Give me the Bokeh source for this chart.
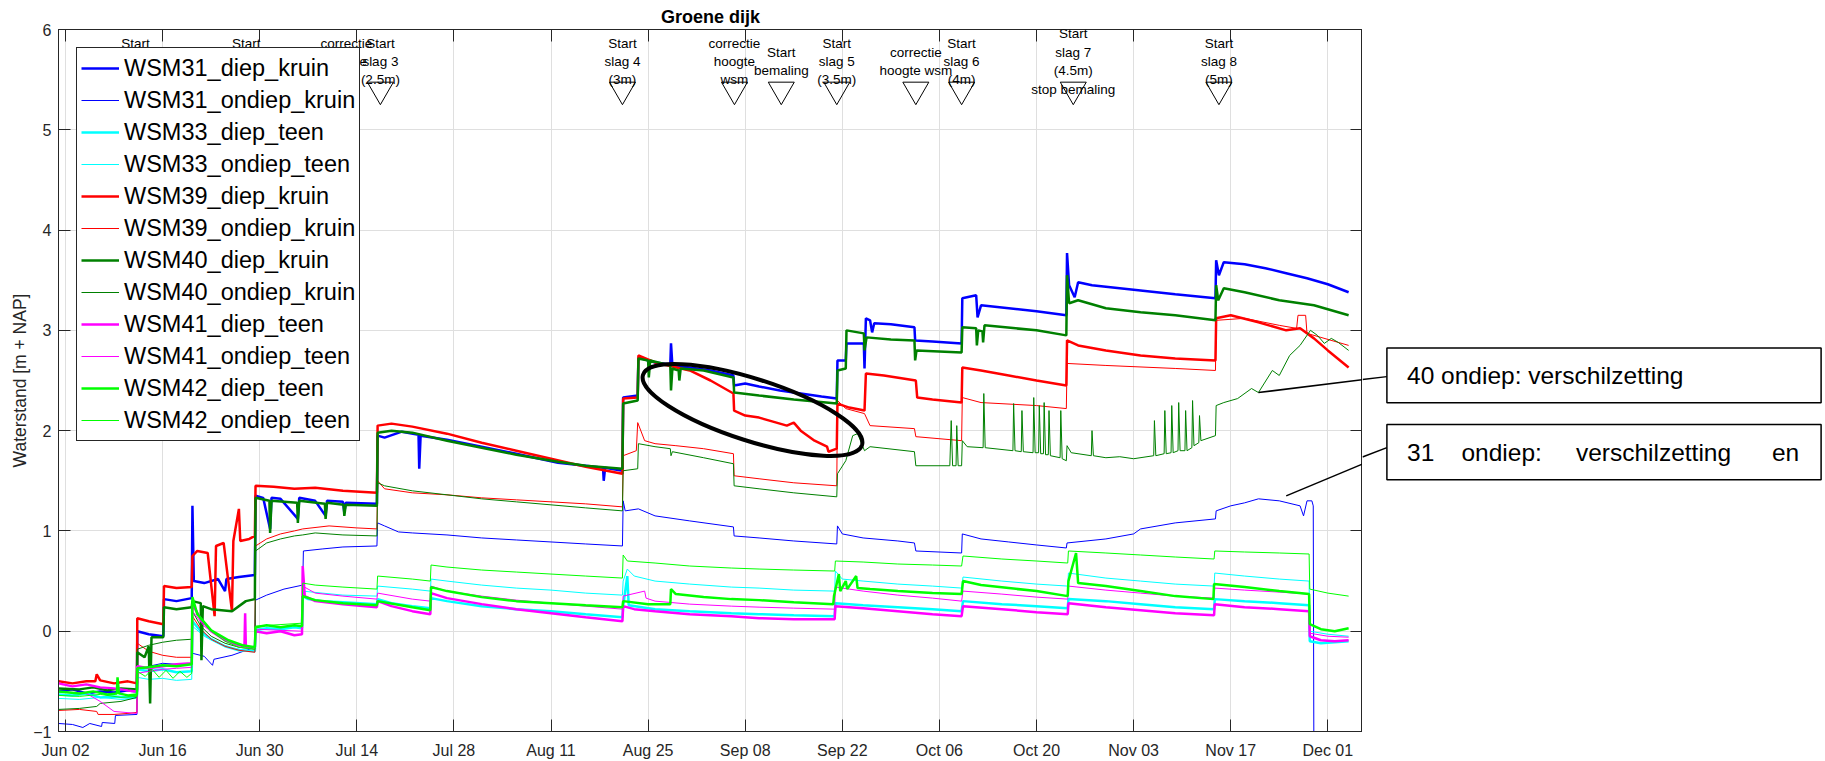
from datetime import datetime, timedelta
from bokeh.plotting import figure
from bokeh.layouts import row
from bokeh.models import (Range1d, FixedTicker, DatetimeTickFormatter, DatetimeAxis, LinearAxis,
                          Legend, LegendItem, LabelSet, Arrow, ColumnDataSource, CustomJSTickFormatter)
from bokeh.core.properties import value
from bokeh.embed import file_html
from bokeh.resources import INLINE

# ---------------- data ----------------
START = datetime(2019, 6, 2)          # day 0 = Jun 02
X_START_DAY, X_END_DAY = -1.01, 187.0
Y_MIN, Y_MAX = -1, 6
tick_days = [0, 14, 28, 42, 56, 70, 84, 98, 112, 126, 140, 154, 168, 182]
y_ticks = [-1, 0, 1, 2, 3, 4, 5, 6]

title_text = "Groene dijk"
y_label = "Waterstand [m + NAP]"

# (day since Jun 02, waterstand [m + NAP])
wsm31_diep_kruin = [(-1.0,-0.60),(1.0,-0.58),(3.0,-0.62),(5.0,-0.60),(7.0,-0.61),(9.0,-0.59),(10.3,-0.60),
    (10.35,0.00),(12.0,-0.03),(14.1,-0.05),(14.2,0.32),(16.0,0.30),(18.2,0.33),
    (18.3,1.25),(18.5,0.50),(20.0,0.48),(22.0,0.52),(23.0,0.40),(23.2,0.52),(25.0,0.54),(27.3,0.56),
    (27.4,1.35),(28.5,1.33),(29.5,1.02),(29.7,1.33),(31.0,1.32),(33.5,1.12),(33.7,1.33),(36.0,1.30),(37.5,1.15),(37.7,1.30),(40.0,1.29),(40.2,1.18),(40.4,1.28),(44.9,1.27),
    (45.0,1.95),(46.0,1.93),(48.5,1.99),(50.9,1.96),(51.0,1.62),(51.2,1.95),(55.0,1.91),(60.0,1.84),(65.0,1.77),(71.0,1.68),(75.0,1.65),(77.5,1.63),(77.6,1.50),(77.8,1.63),(80.3,1.60),
    (80.4,2.33),(82.5,2.35),(82.6,2.73),(85.0,2.68),(87.2,2.66),(87.3,2.87),(87.5,2.65),(90.0,2.63),(93.0,2.60),(96.3,2.55),
    (96.4,2.45),(98.0,2.47),(100.0,2.44),(103.0,2.40),(106.0,2.37),(109.0,2.34),(111.2,2.32),
    (111.3,2.70),(112.5,2.70),(112.6,2.87),(115.1,2.87),(115.2,2.62),(115.4,3.12),(116.0,3.10),(116.3,2.98),(116.6,3.07),(119.0,3.06),(122.4,3.03),
    (122.5,2.90),(125.0,2.89),(129.2,2.87),
    (129.3,3.32),(131.3,3.35),(131.5,3.13),(132.0,3.25),(136.0,3.22),(140.0,3.19),(144.3,3.15),
    (144.4,3.77),(144.7,3.45),(145.5,3.33),(146.0,3.48),(148.0,3.45),(152.0,3.42),(156.0,3.39),(160.0,3.36),(165.8,3.32),
    (165.9,3.70),(166.3,3.55),(167.0,3.68),(170.0,3.66),(173.0,3.62),(176.0,3.57),(179.0,3.52),(182.0,3.46),(185.0,3.38)]

wsm31_ondiep_kruin = [(-1.0,-0.92),(1.0,-0.93),(2.5,-0.96),(3.5,-0.92),(5.2,-0.95),(5.3,-0.91),(7.1,-0.92),(7.2,-0.84),(10.3,-0.83),
    (10.35,-0.40),(12.0,-0.35),(14.0,-0.32),(16.0,-0.33),(18.2,-0.32),
    (18.3,-0.22),(20.0,-0.25),(21.2,-0.34),(21.4,-0.28),(24.0,-0.24),(27.3,-0.16),
    (27.4,0.31),(29.0,0.36),(31.5,0.42),(34.2,0.46),
    (34.3,0.80),(37.0,0.82),(40.0,0.84),(44.9,0.85),
    (45.0,1.08),(46.0,1.05),(48.0,0.99),(50.0,0.98),(55.0,0.96),(60.0,0.93),(65.0,0.91),(70.0,0.89),(75.0,0.87),(80.3,0.85),
    (80.4,1.30),(80.7,1.20),(82.6,1.22),(85.0,1.15),(90.0,1.10),(96.3,1.04),
    (96.4,0.95),(100.0,0.93),(105.0,0.90),(111.2,0.87),
    (111.3,1.05),(112.0,0.97),(115.0,0.93),(120.0,0.90),(122.4,0.88),
    (122.6,0.80),(129.2,0.78),
    (129.3,0.97),(132.0,0.92),(136.0,0.89),(140.0,0.86),(144.3,0.83),
    (144.4,0.88),(150.0,0.92),(154.0,0.97),(155.0,1.02),(160.0,1.08),(165.8,1.12),
    (165.9,1.20),(168.0,1.25),(170.0,1.28),(172.0,1.32),(175.0,1.30),(178.0,1.25),(178.5,1.15),(179.0,1.30),(179.7,1.30),(179.9,1.25),
    (180.0,-1.5),(185.0,-1.5)]

wsm33_diep_teen = [(-1.0,-0.63),(1.0,-0.64),(3.0,-0.62),(5.0,-0.66),(7.0,-0.65),(9.0,-0.66),(10.3,-0.65),
    (10.35,-0.38),(12.0,-0.40),(14.0,-0.38),(16.0,-0.41),(18.2,-0.40),
    (18.3,0.10),(19.5,0.00),(21.0,-0.08),(23.0,-0.15),(25.0,-0.19),(27.3,-0.20),
    (27.4,0.01),(29.0,0.03),(31.0,0.02),(33.0,0.04),(34.1,0.03),
    (34.2,0.35),(35.0,0.32),(37.0,0.30),(40.0,0.29),(44.9,0.27),
    (45.0,0.32),(47.0,0.28),(50.0,0.25),(52.6,0.23),
    (52.7,0.33),(55.0,0.30),(60.0,0.25),(65.0,0.22),(70.0,0.20),(75.0,0.17),(80.3,0.14),
    (80.4,0.25),(81.0,0.55),(81.2,0.26),(85.0,0.22),(90.0,0.20),(96.0,0.18),(100.0,0.17),(105.0,0.16),(110.9,0.15),
    (111.0,0.28),(115.0,0.26),(120.0,0.24),(125.0,0.22),(129.2,0.20),
    (129.4,0.30),(135.0,0.27),(140.0,0.25),(144.5,0.23),
    (144.6,0.32),(150.0,0.30),(155.0,0.27),(160.0,0.24),(165.6,0.22),
    (165.7,0.32),(170.0,0.30),(175.0,0.28),(179.3,0.26),
    (179.4,-0.10),(181.0,-0.12),(183.0,-0.11),(185.0,-0.10)]

wsm33_ondiep_teen = [(-1.0,-0.67),(2.0,-0.68),(5.0,-0.66),(8.0,-0.68),(10.3,-0.67),
    (10.35,-0.46),(12.0,-0.48),(14.0,-0.47),(16.0,-0.49),(18.2,-0.48),
    (18.3,0.05),(20.0,-0.05),(22.0,-0.12),(24.0,-0.17),(27.3,-0.20),
    (27.4,0.02),(34.1,0.04),
    (34.2,0.40),(37.0,0.38),(40.0,0.36),(44.9,0.35),
    (45.0,0.45),(50.0,0.42),(52.6,0.40),
    (52.7,0.52),(55.0,0.50),(60.0,0.46),(65.0,0.43),(70.0,0.41),(75.0,0.38),(80.3,0.36),
    (80.4,0.50),(81.0,0.62),(82.0,0.55),(85.0,0.50),(90.0,0.47),(96.0,0.44),(100.0,0.43),(105.0,0.41),(110.9,0.40),
    (111.0,0.60),(112.0,0.52),(115.0,0.50),(120.0,0.47),(125.0,0.45),(129.2,0.43),
    (129.4,0.54),(135.0,0.50),(140.0,0.47),(144.5,0.45),
    (144.6,0.58),(150.0,0.53),(155.0,0.50),(160.0,0.47),(165.6,0.45),
    (165.7,0.58),(170.0,0.55),(175.0,0.52),(179.3,0.50),
    (179.4,0.00),(182.0,-0.03),(185.0,-0.05)]

wsm39_diep_kruin = [(-1.0,-0.50),(1.0,-0.52),(3.0,-0.50),(4.3,-0.50),(4.5,-0.43),(5.0,-0.49),(7.0,-0.52),(9.0,-0.50),(10.3,-0.52),
    (10.35,0.13),(12.0,0.10),(14.1,0.07),
    (14.2,0.45),(16.0,0.43),(18.2,0.44),
    (18.3,0.75),(19.0,0.80),(20.5,0.78),(21.5,0.15),(21.7,0.85),(22.8,0.88),(24.0,0.20),(24.2,0.90),(25.0,1.22),(25.2,0.90),(26.5,0.92),(27.3,0.95),
    (27.4,1.45),(30.0,1.44),(33.0,1.42),(36.0,1.43),(40.0,1.40),(44.9,1.38),
    (45.0,2.05),(47.0,2.07),(50.0,2.04),(55.0,1.97),(60.0,1.88),(65.0,1.80),(70.0,1.72),(75.0,1.64),(80.3,1.57),
    (80.4,2.32),(82.5,2.33),
    (82.6,2.75),(85.0,2.68),(90.0,2.60),(93.0,2.50),(96.3,2.37),
    (96.4,2.20),(98.0,2.15),(100.0,2.13),(102.0,2.09),(104.0,2.05),(105.0,2.08),(106.0,2.00),(108.0,1.90),(109.8,1.84),(110.0,1.79),(111.2,1.82),
    (111.3,2.27),(113.0,2.23),(115.2,2.20),
    (115.4,2.57),(118.0,2.55),(122.6,2.50),
    (122.8,2.33),(125.0,2.31),(129.2,2.28),
    (129.3,2.63),(132.0,2.60),(136.0,2.55),(140.0,2.50),(144.3,2.45),
    (144.4,2.90),(146.0,2.85),(150.0,2.80),(155.0,2.75),(160.0,2.72),(165.8,2.70),
    (165.9,3.12),(168.0,3.15),(172.0,3.08),(176.0,3.00),(178.0,3.02),(180.0,2.92),(182.0,2.80),(185.0,2.63)]

wsm39_ondiep_kruin = [(-1.0,-0.79),(2.0,-0.78),(4.5,-0.80),(4.7,-0.83),(7.0,-0.83),(9.0,-0.82),(10.3,-0.81),
    (10.35,-0.12),(12.0,-0.20),(14.0,-0.24),(16.0,-0.26),(18.2,-0.26),
    (18.3,0.15),(19.5,0.02),(21.0,-0.08),(23.0,-0.15),(25.0,-0.19),(27.3,-0.21),
    (27.4,0.85),(29.0,0.92),(31.0,0.97),(33.0,1.00),(34.2,1.02),(38.0,1.05),(42.0,1.03),(44.9,1.02),
    (45.0,1.50),(46.0,1.42),(50.0,1.38),(55.0,1.36),(60.0,1.33),(65.0,1.31),(70.0,1.29),(75.0,1.27),(80.3,1.24),
    (80.4,1.75),(82.3,1.80),(82.5,2.08),(83.5,1.90),(85.0,1.87),(88.0,1.85),(92.0,1.82),(96.3,1.77),
    (96.4,1.55),(100.0,1.52),(105.0,1.48),(111.2,1.45),
    (111.3,2.30),(112.5,2.22),(115.2,2.17),(116.0,2.05),(122.4,2.02),
    (122.6,1.94),(129.2,1.90),
    (129.3,2.33),(132.0,2.28),(140.0,2.25),(144.3,2.22),
    (144.4,2.67),(150.0,2.65),(160.0,2.62),(165.8,2.60),
    (165.9,3.10),(170.0,3.12),(175.0,3.05),(177.5,3.02),(177.7,3.15),(178.8,3.15),(179.0,2.97),(181.0,2.93),(185.0,2.85)]

wsm40_diep_kruin = [(-1.0,-0.57),(2.0,-0.58),(4.0,-0.56),(6.0,-0.59),(8.0,-0.57),(10.3,-0.58),
    (10.35,-0.21),(11.4,-0.26),(12.0,-0.15),(12.2,-0.72),(12.4,-0.06),(14.1,-0.06),
    (14.2,0.24),(16.0,0.22),(18.2,0.24),
    (18.3,0.30),(19.5,0.28),(19.6,-0.29),(19.8,0.25),(21.0,0.22),(24.0,0.20),(26.0,0.30),(27.3,0.32),
    (27.4,1.33),(29.4,1.30),(29.5,0.98),(29.7,1.30),(33.4,1.28),(33.5,1.08),(33.7,1.30),(37.4,1.27),(37.5,1.12),(37.7,1.28),(40.1,1.26),(40.2,1.15),(40.4,1.26),(44.9,1.25),
    (45.0,1.98),(47.0,2.00),(50.0,1.98),(55.0,1.90),(60.0,1.83),(65.0,1.76),(71.0,1.69),(75.0,1.65),(80.3,1.62),
    (80.4,2.27),(82.5,2.30),
    (82.6,2.72),(84.0,2.70),(84.1,2.53),(84.3,2.70),(87.2,2.65),(87.3,2.40),(87.5,2.62),(88.4,2.60),(88.5,2.50),(88.7,2.62),(92.0,2.60),(96.3,2.53),
    (96.4,2.38),(100.0,2.35),(105.0,2.31),(111.2,2.27),
    (111.3,2.60),(112.5,2.62),(112.6,3.00),(115.1,2.97),(115.2,2.80),(115.5,2.93),(119.0,2.91),(122.4,2.90),
    (122.5,2.70),(122.7,2.80),(129.2,2.78),
    (129.3,3.03),(131.3,3.02),(131.4,2.85),(131.6,3.00),(132.2,2.99),(132.3,2.88),(132.5,3.05),(137.0,3.02),(140.0,3.00),(144.3,2.95),
    (144.4,3.55),(144.7,3.27),(146.0,3.30),(150.0,3.22),(155.0,3.18),(160.0,3.15),(165.8,3.10),
    (165.9,3.45),(166.2,3.30),(167.0,3.42),(170.0,3.38),(175.0,3.30),(180.0,3.25),(185.0,3.15)]

wsm40_ondiep_kruin = [(-1.0,-0.78),(2.0,-0.77),(4.5,-0.75),(5.0,-0.72),(8.0,-0.70),(10.3,-0.66),
    (10.35,-0.18),(12.0,-0.14),(14.0,-0.11),(16.0,-0.09),(18.2,-0.08),
    (18.3,0.20),(19.5,0.05),(21.0,-0.05),(23.0,-0.12),(25.0,-0.16),(27.3,-0.18),
    (27.4,0.80),(29.0,0.88),(31.0,0.92),(33.0,0.95),(34.2,0.96),(36.0,0.98),(40.0,0.96),(44.9,0.95),
    (45.0,1.48),(46.0,1.45),(50.0,1.40),(55.0,1.36),(60.0,1.32),(65.0,1.29),(70.0,1.26),(75.0,1.23),(80.3,1.20),
    (80.4,1.60),(82.5,1.62),(82.6,1.87),(85.0,1.84),(87.2,1.82),(87.3,1.75),(87.5,1.79),(92.0,1.73),(96.3,1.67),
    (96.4,1.45),(100.0,1.42),(105.0,1.38),(111.2,1.34),
    (111.3,1.57),(112.5,1.70),(113.5,1.95),(114.2,1.97),(115.2,1.80),(116.0,1.84),(122.4,1.79),
    (122.6,1.65),(127.5,1.65),(127.7,2.10),(127.9,1.65),(128.4,1.65),(128.5,2.05),(128.7,1.65),(129.2,1.65),
    (129.3,1.90),(130.0,1.84),(132.3,1.83),(132.4,2.37),(132.6,1.83),(136.6,1.80),(136.7,2.27),(136.9,1.80),(137.8,1.79),(137.9,2.20),(138.1,1.79),
    (139.5,1.78),(139.6,2.33),(139.8,1.78),(140.3,1.78),(140.4,2.25),(140.6,1.77),(141.0,1.77),(141.1,2.28),(141.3,1.76),(141.7,1.76),(141.8,2.20),(142.0,1.75),
    (143.4,1.73),(143.5,2.20),(143.7,1.72),(144.3,1.70),
    (144.4,1.85),(145.0,1.78),(147.9,1.75),(148.0,2.00),(148.2,1.75),(150.0,1.73),(152.0,1.74),(154.0,1.72),
    (156.9,1.75),(157.0,2.10),(157.2,1.75),(158.4,1.77),(158.5,2.20),(158.7,1.77),(159.4,1.78),(159.5,2.25),(159.7,1.78),
    (160.4,1.80),(160.5,2.28),(160.7,1.80),(161.4,1.80),(161.5,2.20),(161.7,1.80),(162.4,1.83),(162.5,2.30),(162.7,1.85),
    (163.4,1.88),(163.5,2.15),(163.7,1.90),(165.8,1.95),
    (165.9,2.25),(167.0,2.28),(169.0,2.32),(171.0,2.42),(172.0,2.38),(174.0,2.60),(175.0,2.55),(176.5,2.75),(178.0,2.85),
    (179.5,3.00),(180.5,2.95),(181.5,2.87),(182.5,2.92),(183.5,2.88),(185.0,2.80)]

wsm41_diep_teen = [(-1.0,-0.52),(1.0,-0.55),(3.0,-0.53),(5.0,-0.56),(7.0,-0.57),(9.0,-0.59),(10.3,-0.60),
    (10.35,-0.35),(12.0,-0.37),(14.0,-0.35),(16.0,-0.33),(18.2,-0.32),
    (18.3,0.27),(19.5,0.12),(21.0,0.00),(23.0,-0.09),(25.0,-0.14),(25.8,-0.15),(25.9,0.18),(26.0,-0.16),(27.3,-0.16),
    (27.4,0.00),(29.0,-0.02),(31.0,0.00),(33.0,-0.04),(34.1,-0.03),
    (34.2,0.65),(34.5,0.35),(36.0,0.30),(40.0,0.27),(44.9,0.24),
    (45.0,0.30),(47.0,0.25),(50.0,0.20),(52.6,0.17),
    (52.7,0.38),(55.0,0.33),(60.0,0.27),(65.0,0.22),(70.0,0.18),(75.0,0.14),(80.3,0.10),
    (80.4,0.25),(82.0,0.22),(85.0,0.20),(90.0,0.17),(96.0,0.15),(100.0,0.13),(105.0,0.12),(110.9,0.12),
    (111.0,0.25),(115.0,0.23),(120.0,0.20),(125.0,0.17),(129.2,0.15),
    (129.4,0.25),(135.0,0.22),(140.0,0.19),(144.5,0.17),
    (144.6,0.28),(150.0,0.24),(155.0,0.21),(160.0,0.18),(165.6,0.16),
    (165.7,0.27),(170.0,0.24),(175.0,0.22),(179.3,0.20),
    (179.4,-0.05),(181.0,-0.09),(183.0,-0.10),(185.0,-0.09)]

wsm41_ondiep_teen = [(-1.0,-0.60),(3.0,-0.62),(5.0,-0.70),(7.0,-0.80),(10.3,-0.82),
    (10.35,-0.42),(12.0,-0.40),(14.0,-0.38),(16.0,-0.37),(18.2,-0.36),
    (18.3,0.20),(20.0,0.05),(22.0,-0.05),(24.0,-0.12),(27.3,-0.17),
    (27.4,0.02),(34.1,0.00),
    (34.2,0.45),(36.0,0.38),(40.0,0.35),(44.9,0.32),
    (45.0,0.38),(50.0,0.32),(52.6,0.30),
    (52.7,0.45),(55.0,0.40),(60.0,0.35),(65.0,0.31),(70.0,0.28),(75.0,0.25),(80.3,0.22),
    (80.4,0.35),(83.5,0.40),(83.7,0.33),(85.0,0.30),(90.0,0.27),(96.0,0.25),(100.0,0.24),(105.0,0.23),(110.9,0.22),
    (111.0,0.44),(115.0,0.40),(120.0,0.36),(125.0,0.33),(129.2,0.30),
    (129.4,0.40),(135.0,0.37),(140.0,0.34),(144.5,0.32),
    (144.6,0.45),(150.0,0.41),(155.0,0.38),(160.0,0.35),(165.6,0.33),
    (165.7,0.43),(170.0,0.41),(175.0,0.39),(179.3,0.37),
    (179.4,-0.02),(182.0,-0.05),(185.0,-0.06)]

wsm42_diep_teen = [(-1.0,-0.60),(2.0,-0.62),(4.0,-0.60),(6.0,-0.63),(7.4,-0.62),(7.5,-0.46),(7.7,-0.62),(9.0,-0.64),(10.3,-0.63),
    (10.35,-0.37),(12.0,-0.36),(14.0,-0.34),(16.0,-0.35),(18.2,-0.33),
    (18.3,0.34),(19.0,0.17),(21.0,0.01),(23.5,-0.09),(25.5,-0.14),(27.3,-0.16),
    (27.4,0.04),(29.0,0.06),(31.0,0.04),(33.0,0.06),(34.1,0.05),
    (34.2,0.35),(36.0,0.31),(40.0,0.28),(44.9,0.26),
    (45.0,0.30),(50.0,0.24),(52.6,0.21),
    (52.7,0.44),(55.0,0.40),(60.0,0.34),(65.0,0.30),(70.0,0.28),(75.0,0.26),(80.3,0.24),
    (80.4,0.30),(84.0,0.27),(87.2,0.27),(87.3,0.42),(88.0,0.37),(92.0,0.34),(96.0,0.32),(100.0,0.31),(105.0,0.29),(110.7,0.27),
    (110.8,0.35),(111.5,0.57),(111.7,0.40),(112.5,0.50),(112.7,0.42),(114.0,0.55),(114.2,0.43),(116.0,0.42),(120.0,0.40),(125.0,0.38),(129.2,0.37),
    (129.4,0.50),(132.0,0.46),(136.0,0.43),(140.0,0.40),(144.5,0.35),
    (144.6,0.50),(145.7,0.78),(146.0,0.48),(150.0,0.45),(155.0,0.40),(160.0,0.35),(165.5,0.32),
    (165.6,0.47),(170.0,0.44),(175.0,0.40),(179.3,0.37),
    (179.4,0.07),(181.0,0.02),(183.0,0.00),(185.0,0.03)]

wsm42_ondiep_teen = [(-1.0,-0.64),(2.0,-0.65),(5.0,-0.63),(8.0,-0.66),(10.3,-0.65),
    (10.35,-0.40),(11.5,-0.45),(12.5,-0.38),(13.5,-0.46),(14.5,-0.39),(15.5,-0.47),(16.5,-0.40),(17.5,-0.46),(18.2,-0.42),
    (18.3,0.30),(19.5,0.12),(21.0,0.00),(23.0,-0.10),(25.0,-0.16),(27.3,-0.18),
    (27.4,0.05),(34.1,0.08),
    (34.2,0.48),(36.0,0.46),(40.0,0.44),(44.9,0.42),
    (45.0,0.55),(50.0,0.52),(52.6,0.50),
    (52.7,0.66),(55.0,0.64),(60.0,0.61),(65.0,0.59),(70.0,0.57),(75.0,0.55),(80.3,0.53),
    (80.4,0.76),(81.0,0.70),(85.0,0.68),(90.0,0.65),(96.0,0.63),(100.0,0.62),(105.0,0.61),(110.9,0.60),
    (111.0,0.70),(115.0,0.69),(120.0,0.67),(125.0,0.66),(129.2,0.65),
    (129.4,0.75),(135.0,0.72),(140.0,0.70),(144.5,0.68),
    (144.6,0.80),(150.0,0.78),(155.0,0.76),(160.0,0.74),(165.6,0.72),
    (165.7,0.80),(170.0,0.79),(175.0,0.78),(179.3,0.77),
    (179.4,0.42),(182.0,0.38),(185.0,0.35)]

series_names = ["WSM31_diep_kruin", "WSM31_ondiep_kruin", "WSM33_diep_teen", "WSM33_ondiep_teen",
                "WSM39_diep_kruin", "WSM39_ondiep_kruin", "WSM40_diep_kruin", "WSM40_ondiep_kruin",
                "WSM41_diep_teen", "WSM41_ondiep_teen", "WSM42_diep_teen", "WSM42_ondiep_teen"]
series_data = [wsm31_diep_kruin, wsm31_ondiep_kruin, wsm33_diep_teen, wsm33_ondiep_teen,
               wsm39_diep_kruin, wsm39_ondiep_kruin, wsm40_diep_kruin, wsm40_ondiep_kruin,
               wsm41_diep_teen, wsm41_ondiep_teen, wsm42_diep_teen, wsm42_ondiep_teen]
series_colors = ["#0000ff", "#0000ff", "#00ffff", "#00ffff", "#ff0000", "#ff0000",
                 "#008000", "#008000", "#ff00ff", "#ff00ff", "#00ff00", "#00ff00"]
series_widths = [2.5, 1, 2.5, 1, 2.5, 1, 2.5, 1, 2.5, 1, 2.5, 1]

event_days = [10.1, 26.05, 40.5, 45.4, 80.3, 96.45, 103.2, 111.2, 122.6, 129.2, 145.3, 166.3]
event_labels = ["Start\nslag 1\n(1.5m)", "Start\nslag 2\n(2m)", "correctie\nhoogte\nwsm",
                "Start\nslag 3\n(2.5m)", "Start\nslag 4\n(3m)", "correctie\nhoogte\nwsm",
                "Start\nbemaling", "Start\nslag 5\n(3.5m)", "correctie\nhoogte wsm",
                "Start\nslag 6\n(4m)", "Start\nslag 7\n(4.5m)\nstop bemaling", "Start\nslag 8\n(5m)"]
event_marker_level = 5.4
event_label_level = 5.68

circle_day, circle_value = 99.05, 2.206

callout_texts = ["40 ondiep: verschilzetting",
                 "31\u00a0\u00a0\u00a0\u00a0ondiep:\u00a0\u00a0\u00a0\u00a0\u00a0verschilzetting\u00a0\u00a0\u00a0\u00a0\u00a0\u00a0en"]
callout_anchor_days = [172.0, 176.0]
callout_anchor_values = [2.38, 1.35]

# ---------------- layout (pixels) ----------------
W, H = 1825, 761
FRAME_L, FRAME_T, FRAME_W, FRAME_H = 58, 29, 1304, 702
FRAME_R, FRAME_B = FRAME_L + FRAME_W, FRAME_T + FRAME_H
LINE_STEP = 18.4 * (Y_MAX - Y_MIN) / FRAME_H          # label line spacing in data units
box_left, box_right = 1386.4, 1820.6
box_tops, box_bottoms = [345.2, 428.2], [404.5, 488.2]
box_line_y = [376.3, 453.3]
text_left = 1406.5

EPOCH = datetime(1970, 1, 1)
def to_ms(day):
    return (START + timedelta(days=day) - EPOCH).total_seconds() * 1000.0

def page_xy(day, val):
    px = FRAME_L + (day - X_START_DAY) / (X_END_DAY - X_START_DAY) * FRAME_W
    py = FRAME_T + (Y_MAX - val) / (Y_MAX - Y_MIN) * FRAME_H
    return px, py

FONT = "Liberation Sans"
AX = "#262626"

p = figure(width=FRAME_R, height=H, x_axis_type="datetime",
           x_range=Range1d(to_ms(X_START_DAY), to_ms(X_END_DAY)),
           y_range=Range1d(Y_MIN, Y_MAX),
           output_backend="svg", toolbar_location=None,
           min_border_left=FRAME_L, min_border_right=0, min_border_top=FRAME_T,
           min_border_bottom=H - FRAME_B)
p.background_fill_color = "white"
p.border_fill_color = "white"
p.outline_line_color = AX
p.outline_line_width = 1

p.title.text = title_text
p.title.align = "center"
p.title.text_font = FONT
p.title.text_font_size = "18px"
p.title.text_font_style = "bold"
p.title.text_color = "black"
p.title.standoff = 5

xt = FixedTicker(ticks=[to_ms(t) for t in tick_days])
yt = FixedTicker(ticks=y_ticks)
fmt = "%b %d"
p.xaxis.ticker = xt
p.xaxis.formatter = DatetimeTickFormatter(milliseconds=fmt, seconds=fmt, minsec=fmt, minutes=fmt,
                                          hourmin=fmt, hours=fmt, days=fmt, months=fmt, years=fmt)
p.yaxis.ticker = yt
p.xgrid.ticker = xt
p.ygrid.ticker = yt
for g in (p.xgrid[0], p.ygrid[0]):
    g.grid_line_color = "#dfdfdf"
    g.grid_line_width = 1

def style_axis(ax):
    ax.axis_line_color = AX
    ax.major_tick_line_color = AX
    ax.major_tick_in = 12
    ax.major_tick_out = 0
    ax.minor_tick_line_color = None
    ax.major_label_text_font = FONT
    ax.major_label_text_font_size = "16px"
    ax.major_label_text_color = AX

style_axis(p.xaxis[0]); p.xaxis[0].major_label_standoff = 10
style_axis(p.yaxis[0]); p.yaxis[0].major_label_standoff = 7
p.yaxis[0].axis_label = y_label
p.yaxis[0].axis_label_text_font = FONT
p.yaxis[0].axis_label_text_font_size = "17.5px"
p.yaxis[0].axis_label_text_font_style = "normal"
p.yaxis[0].axis_label_text_color = AX
p.yaxis[0].axis_label_standoff = 0

blank = CustomJSTickFormatter(code="return ''")
top_ax = DatetimeAxis(ticker=xt, formatter=blank, major_label_standoff=0)
right_ax = LinearAxis(ticker=yt, formatter=blank, major_label_standoff=0)
for ax in (top_ax, right_ax):
    style_axis(ax)
    ax.major_label_text_font_size = "0px"
p.add_layout(top_ax, "above")
p.add_layout(right_ax, "right")

# ---------------- series ----------------
items = []
for name, data, color, lw in zip(series_names, series_data, series_colors, series_widths):
    xs = [to_ms(t) for t, _ in data]
    ys = [v for _, v in data]
    r = p.line(xs, ys, line_color=color, line_width=lw)
    items.append(LegendItem(label=name, renderers=[r]))

# ellipse highlight
p.ellipse(x=[to_ms(circle_day)], y=[circle_value], width=230, height=62, angle=-0.311,
          width_units="screen", height_units="screen",
          fill_color=None, line_color="black", line_width=4)

# event markers and labels (one entry per text line, each line centred)
p.scatter([to_ms(t) for t in event_days], [event_marker_level] * len(event_days),
          marker="inverted_triangle", size=26, fill_color=None, line_color="black", line_width=1)
lab_x, lab_y, lab_t = [], [], []
for day, label in zip(event_days, event_labels):
    lines = label.split("\n")
    n = len(lines)
    for k, line in enumerate(lines):
        lab_x.append(to_ms(day))
        lab_y.append(event_label_level + ((n - 1) / 2 - k) * LINE_STEP)
        lab_t.append(line)
ev_src = ColumnDataSource(dict(x=lab_x, y=lab_y, text=lab_t))
p.add_layout(LabelSet(x="x", y="y", text="text", source=ev_src, text_align="center",
                      text_baseline="middle", text_font=value(FONT), text_font_size="13.5px",
                      text_color="black"))

legend = Legend(items=items, location="top_left", margin=18, padding=4, spacing=0,
                label_height=32, glyph_height=32, glyph_width=38, label_standoff=5,
                label_text_font=FONT, label_text_font_size="23.5px", label_text_color="black",
                border_line_color=AX, border_line_width=1, border_line_alpha=1,
                background_fill_color="white", background_fill_alpha=1)
p.add_layout(legend)

# callout leader lines: part inside the axes (clipped at the frame edge)
for ad, av, ly in zip(callout_anchor_days, callout_anchor_values, box_line_y):
    p.add_layout(Arrow(end=None, x_start=to_ms(ad), y_start=av, start_units="data",
                       x_end=box_left - FRAME_L, y_end=FRAME_B - ly, end_units="screen",
                       line_color="black", line_width=1.5))

# ---------------- right-hand panel with callout boxes (page pixel coordinates) ----------------
q = figure(width=W - FRAME_R, height=H, x_range=Range1d(FRAME_R, W), y_range=Range1d(H, 0),
           output_backend="svg", toolbar_location=None, min_border=0,
           x_axis_location=None, y_axis_location=None)
q.outline_line_color = None
q.background_fill_color = "white"
q.border_fill_color = "white"
q.xgrid.grid_line_color = None
q.ygrid.grid_line_color = None

seg_x0, seg_y0, seg_x1, seg_y1 = [], [], [], []
for ad, av, ly in zip(callout_anchor_days, callout_anchor_values, box_line_y):
    ax_, ay_ = page_xy(ad, av)
    y_edge = ay_ + (ly - ay_) * (FRAME_R - ax_) / (box_left - ax_)
    seg_x0.append(FRAME_R); seg_y0.append(y_edge); seg_x1.append(box_left); seg_y1.append(ly)
q.segment(seg_x0, seg_y0, seg_x1, seg_y1, line_color="black", line_width=1.5)
q.quad(left=[box_left] * 2, right=[box_right] * 2, top=box_tops, bottom=box_bottoms,
       fill_color="white", line_color="black", line_width=1.5)
q.text(x=[text_left] * 2, y=[(t + b) / 2 for t, b in zip(box_tops, box_bottoms)], text=callout_texts,
       text_align="left", text_baseline="middle", text_font=value(FONT),
       text_font_size="24.5px", text_color="black")

layout = row(p, q)
open("out.html", "w").write(file_html(layout, INLINE))
